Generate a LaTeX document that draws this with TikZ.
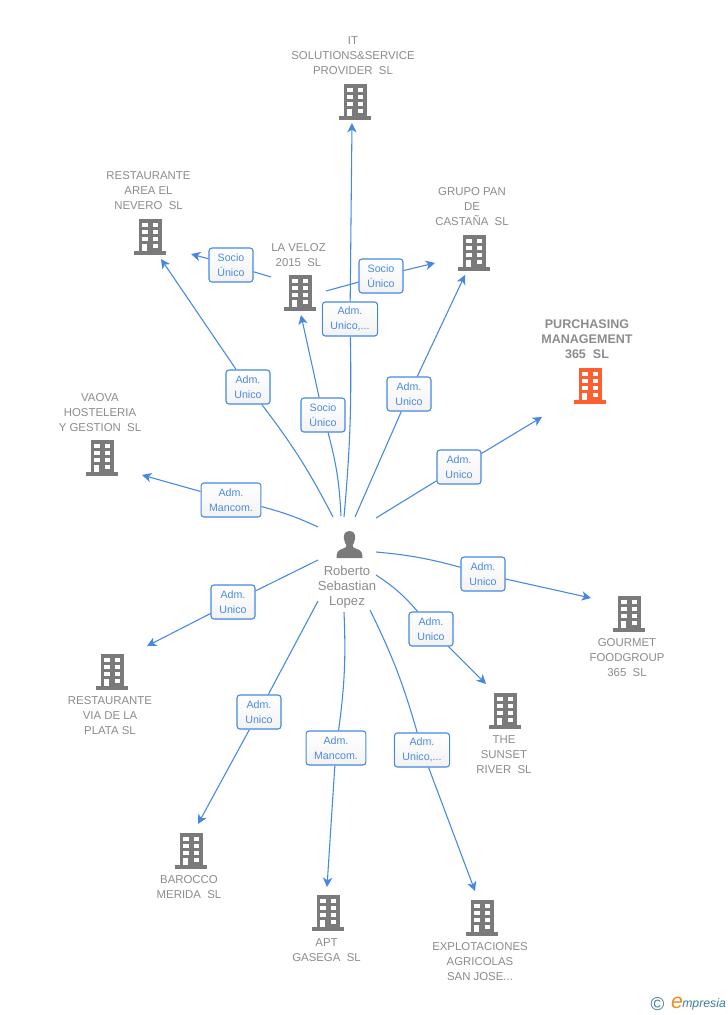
\documentclass[tikz,border=0pt]{standalone}
\usepackage{fontspec}
\setmainfont{Liberation Sans}
\usetikzlibrary{arrows.meta}
\definecolor{linkblue}{HTML}{4488E2}
\definecolor{boxtext}{HTML}{4C8AE2}
\definecolor{bldgray}{HTML}{7A7A7A}
\definecolor{txtgray}{HTML}{8C8C8C}
\definecolor{bldorange}{HTML}{FF5F30}
\definecolor{logoteal}{HTML}{3D7E9A}
\definecolor{logoorange}{HTML}{F08A1D}
\tikzset{
  x=0.75pt,y=-0.75pt,
  conn/.style={draw=linkblue,line width=0.8pt},
  arr/.style={conn,-{Stealth[length=7pt,width=7pt,inset=2pt]}},
  relbox/.style={draw=linkblue,top color=white,bottom color=white!95!black,rounded corners=2.2pt,line width=0.8pt,text=boxtext,
    font=\fontsize{8}{11.25}\selectfont,align=center,minimum width=33pt,minimum height=25.5pt,
    inner xsep=6pt,inner ysep=1pt},
  corpname/.style={text=txtgray,font=\fontsize{8.55}{11.25}\selectfont,align=center,inner sep=0pt},
  corpbold/.style={text=txtgray,font=\fontsize{9.4}{11.25}\selectfont\bfseries,align=center,inner sep=0pt},
  personname/.style={text=txtgray,font=\fontsize{9.8}{11.25}\selectfont,align=center,inner sep=0pt},
  pics/bld/.style={code={
    \fill[#1] (-11.5,-17) rectangle (11.5,17);
    \fill[#1] (-16,15) rectangle (16,18.5);
    \foreach \yy in {-13.5,-6.5,0.5}{
      \fill[white] (-8,\yy) rectangle (-2.5,{\yy+4.5});
      \fill[white] (2.5,\yy) rectangle (8,{\yy+4.5});
    }
    \fill[white] (-8,7.5) rectangle (-3,15);
    \fill[white] (2.5,7.5) rectangle (8,12);
  }}
}
% id, start, label pos, end, label text, lower bend, upper bend
\newcommand{\relink}[7]{%
  \coordinate (#1s) at (#2);
  \coordinate (#1e) at (#4);
  \node[relbox] (#1l) at (#3) {#5};
  \draw[conn] (#1s) to[#6] (#1l);
  \draw[arr] (#1l) to[#7] (#1e);
}
\begin{document}
\begin{tikzpicture}
\useasboundingbox (0,0) rectangle (728,1015);
\fill[white] (0,0) rectangle (728,1015);

% buildings
\pic at (355,101) {bld=bldgray};
\pic at (150,236) {bld=bldgray};
\pic at (474,252) {bld=bldgray};
\pic at (300,292) {bld=bldgray};
\pic at (590,385) {bld=bldorange};
\pic at (102,457) {bld=bldgray};
\pic at (629,613) {bld=bldgray};
\pic at (112,671) {bld=bldgray};
\pic at (505,710) {bld=bldgray};
\pic at (191,850) {bld=bldgray};
\pic at (328,912) {bld=bldgray};
\pic at (482,917) {bld=bldgray};

% names
\node[corpname] (nit) at (353,55.5) {IT\\SOLUTIONS\&SERVICE\\PROVIDER\ \ SL};
\node[corpname] (narea) at (148.5,190.5) {RESTAURANTE\\AREA EL\\NEVERO\ \ SL};
\node[corpname] (ngrupo) at (472,206.5) {GRUPO PAN\\DE\\CASTAÑA\ \ SL};
\node[corpname] (nveloz) at (298.5,255) {LA VELOZ\\2015\ \ SL};
\node[corpbold] (npur) at (587,339) {PURCHASING\\MANAGEMENT\\365\ \ SL};
\node[corpname] (nvaova) at (100,412.5) {VAOVA\\HOSTELERIA\\Y GESTION\ \ SL};
\node[corpname] (ngour) at (627,657.5) {GOURMET\\FOODGROUP\\365\ \ SL};
\node[corpname] (nvia) at (110,715.5) {RESTAURANTE\\VIA DE LA\\PLATA SL};
\node[corpname] (nsun) at (504,754.5) {THE\\SUNSET\\RIVER\ \ SL};
\node[corpname] (nbar) at (189,887) {BAROCCO\\MERIDA\ \ SL};
\node[corpname] (napt) at (326.5,950) {APT\\GASEGA\ \ SL};
\node[corpname] (nexp) at (480,961.5) {EXPLOTACIONES\\AGRICOLAS\\SAN JOSE...};
\node[personname] (nper) at (347,587.5) {Roberto\\Sebastian\\Lopez};

% person icon
\fill[bldgray] (349.5,531) .. controls (344,531) and (343.5,536) .. (344,539)
  .. controls (344.5,542) and (345.5,544) .. (346.5,545.5)
  .. controls (346.5,547.5) and (345,548) .. (342,549)
  .. controls (338,550.5) and (336.5,552) .. (336.5,558)
  -- (362.5,558)
  .. controls (362.5,552) and (361,550.5) .. (357,549)
  .. controls (354,548) and (352.5,547.5) .. (352.5,545.5)
  .. controls (353.5,544) and (354.5,542) .. (355,539)
  .. controls (355.5,536) and (355,531) .. (349.5,531) -- cycle;

% connectors with their labels
\relink{a}{344,517}{350,319}{352,123}{Adm.\\Unico,...}{bend right=3}{bend left=0}
\relink{b}{341,516}{323,415}{301,315}{Socio\\Único}{bend right=6}{bend left=0}
\relink{c}{333,517}{248,387}{161,259}{Adm.\\Unico}{bend right=5}{bend left=0}
\relink{d}{271,277}{231,265}{191,254}{Socio\\Único}{bend left=0}{bend left=0}
\relink{e}{326,291}{381,276}{435,263}{Socio\\Único}{bend left=0}{bend left=0}
\relink{f}{355,517}{409,394}{465,275}{Adm.\\Unico}{bend left=0}{bend left=0}
\relink{g}{376,518}{459,467}{542,417}{Adm.\\Unico}{bend left=0}{bend left=0}
\relink{h}{318,527}{231,500}{142,475}{Adm.\\Mancom.}{bend right=5}{bend left=0}
\relink{i}{376,552}{483,574}{591,598}{Adm.\\Unico}{bend left=5}{bend left=0}
\relink{j}{376,575}{431,629}{486,684}{Adm.\\Unico}{bend left=8}{bend left=0}
\relink{k}{370,610}{422,750}{475,891}{Adm.\\Unico,...}{bend left=5}{bend left=0}
\relink{l}{344,612}{336,748}{327,887}{Adm.\\Mancom.}{bend left=5}{bend left=0}
\relink{m}{318,601}{259,712}{198,824}{Adm.\\Unico}{bend left=0}{bend left=0}
\relink{n}{318,560}{233,602}{147,646}{Adm.\\Unico}{bend left=0}{bend left=0}

% logo
\node[text=logoteal,inner sep=0pt,font=\fontsize{14}{14}\selectfont] (logoa) at (657.5,1004) {©};
\node[text=logoorange,inner sep=0pt,font=\fontsize{16}{16}\selectfont\itshape] (logob) at (677,1003) {e};
\node[text=logoteal,anchor=west,inner sep=0pt,font=\fontsize{9.2}{9.2}\selectfont\itshape] (logoc) at (682,1004.5) {mpresia};
\end{tikzpicture}
\end{document}
